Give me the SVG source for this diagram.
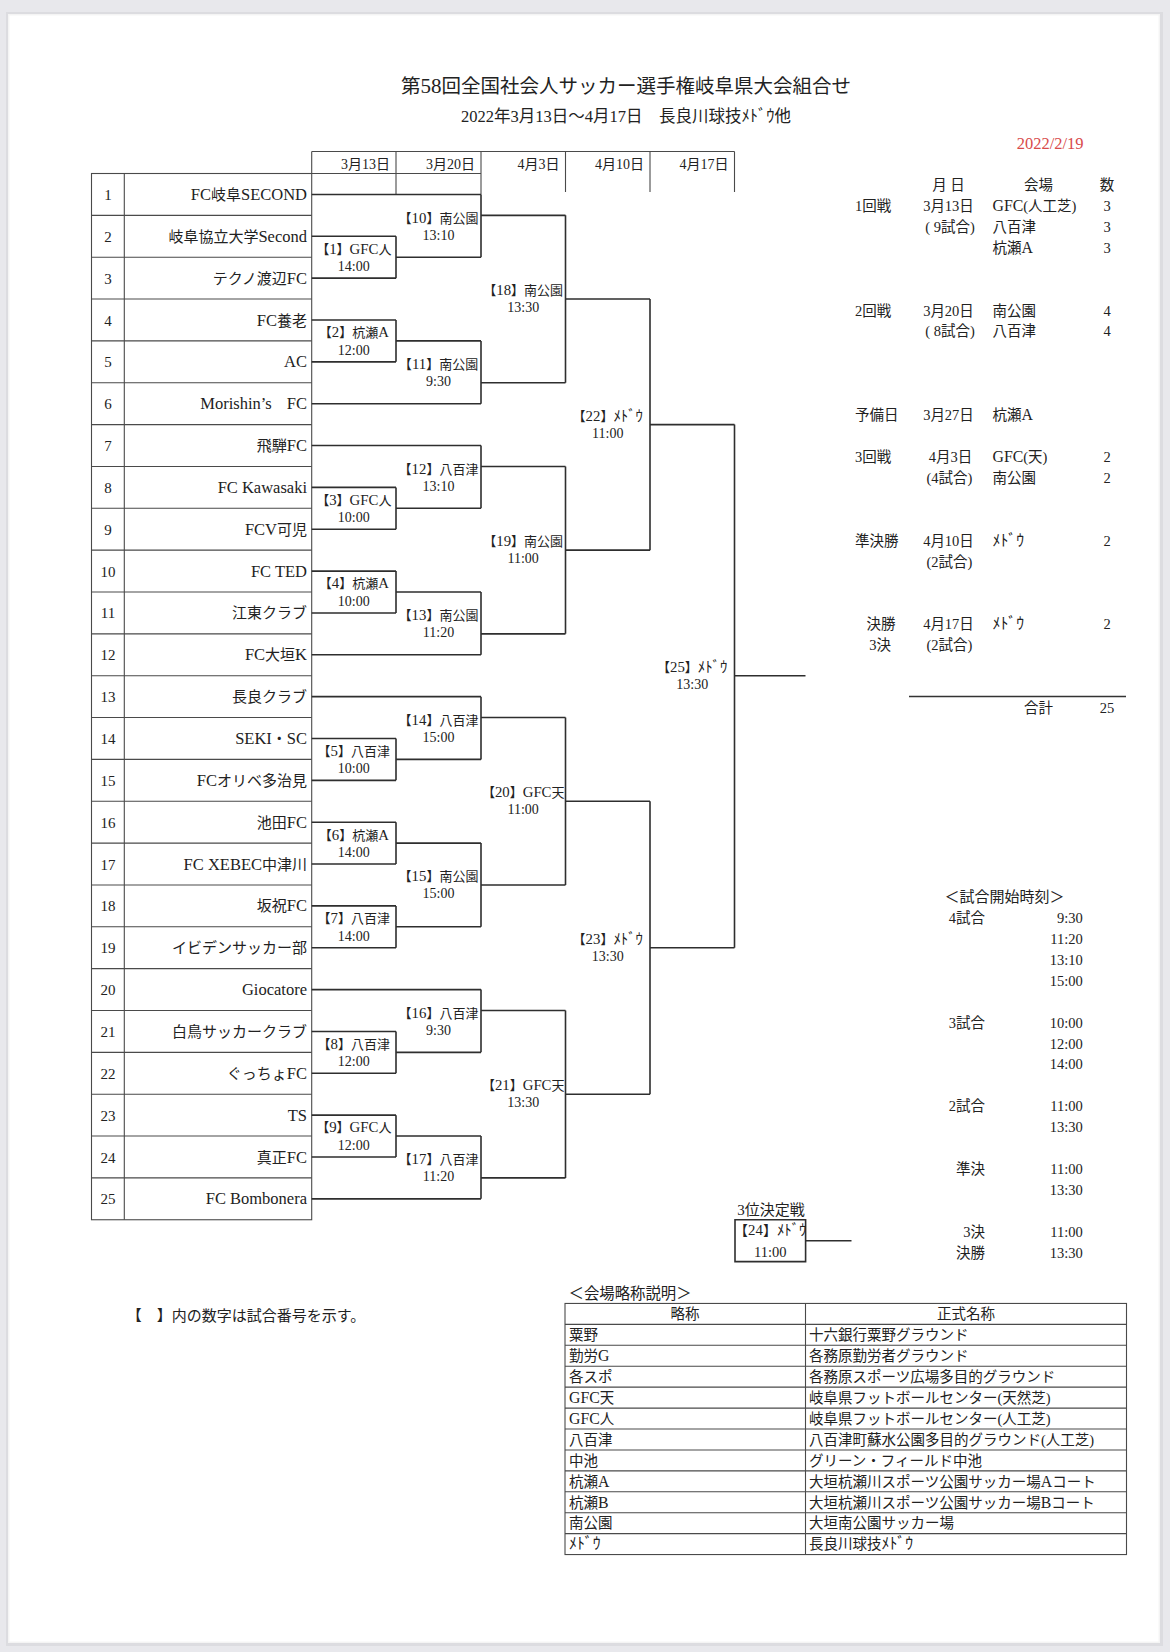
<svg xmlns="http://www.w3.org/2000/svg" width="1170" height="1652" viewBox="0 0 1170 1652">
<style>
text{font-family:"Liberation Serif","Noto Sans CJK JP",serif;fill:#222}
.team{font-size:15px;text-anchor:end}
.la{font-size:16.5px}
.lb{font-size:14.8px}
.li{font-size:15.8px}
.num{font-size:15px;text-anchor:middle}
.lbl{font-size:13px;text-anchor:middle}
.tm{font-size:14px;text-anchor:middle}
.hd{font-size:14px;text-anchor:end}
.inf{font-size:14.5px}
.mid{text-anchor:middle}
.end{text-anchor:end}
.ln{stroke:#2e2e2e;stroke-width:1.6;fill:none}
.tb{stroke:#4a4a4a;stroke-width:1.1;fill:none}
</style>
<rect x="0" y="0" width="1170" height="1652" fill="#e8e8ec"/>
<rect x="6" y="12" width="1157" height="1634" fill="#dcdce0"/>
<rect x="8" y="14" width="1152" height="1629" fill="#f4f4f4"/>
<rect x="9.5" y="15.5" width="1149" height="1626" fill="#ffffff"/>

<g id="title">
<text x="626" y="92.5" class="mid" style="font-size:19.5px">第<tspan style="font-size:21px">58</tspan>回全国社会人サッカー選手権岐阜県大会組合せ</text>
<text x="626" y="122" class="mid" style="font-size:16.5px">2022年3月13日～4月17日　長良川球技ﾒﾄﾞｳ他</text>
<text x="1083.6" y="149" class="end" style="font-size:16.5px;fill:#d84a4a">2022/2/19</text>
</g>

<g id="header">
<path class="tb" d="M311.7 151.5H734.5M91.5 173.5H481M396 151.5V194.4M481 151.5V194.4M565.5 151.5V192M650 151.5V192M734.5 151.5V192M311.7 151.5V173.5"/>
<text x="390" y="168.5" class="hd">3月13日</text>
<text x="475" y="168.5" class="hd">3月20日</text>
<text x="559.5" y="168.5" class="hd">4月3日</text>
<text x="644" y="168.5" class="hd">4月10日</text>
<text x="728.5" y="168.5" class="hd">4月17日</text>
</g>

<g id="team-table">
<rect class="tb" x="91.5" y="173.5" width="220.2" height="1046.25"/>
<path class="tb" d="M124.3 173.5V1219.75M91.5 215.35H311.7M91.5 257.2H311.7M91.5 299.05H311.7M91.5 340.9H311.7M91.5 382.75H311.7M91.5 424.6H311.7M91.5 466.45H311.7M91.5 508.3H311.7M91.5 550.15H311.7M91.5 592H311.7M91.5 633.85H311.7M91.5 675.7H311.7M91.5 717.55H311.7M91.5 759.4H311.7M91.5 801.25H311.7M91.5 843.1H311.7M91.5 884.95H311.7M91.5 926.8H311.7M91.5 968.65H311.7M91.5 1010.5H311.7M91.5 1052.35H311.7M91.5 1094.2H311.7M91.5 1136.05H311.7M91.5 1177.9H311.7"/>
</g>

<g id="team-1"><text x="108" y="199.9" class="num">1</text><text x="307" y="199.9" class="team"><tspan class="la">FC</tspan>岐阜<tspan class="la">SECOND</tspan></text></g>
<g id="team-2"><text x="108" y="241.8" class="num">2</text><text x="307" y="241.8" class="team">岐阜協立大学<tspan class="la">Second</tspan></text></g>
<g id="team-3"><text x="108" y="283.6" class="num">3</text><text x="307" y="283.6" class="team">テクノ渡辺<tspan class="la">FC</tspan></text></g>
<g id="team-4"><text x="108" y="325.5" class="num">4</text><text x="307" y="325.5" class="team"><tspan class="la">FC</tspan>養老</text></g>
<g id="team-5"><text x="108" y="367.3" class="num">5</text><text x="307" y="367.3" class="team"><tspan class="la">AC</tspan></text></g>
<g id="team-6"><text x="108" y="409.2" class="num">6</text><text x="307" y="409.2" class="team"><tspan class="la">Morishin’s</tspan>　<tspan class="la">FC</tspan></text></g>
<g id="team-7"><text x="108" y="451" class="num">7</text><text x="307" y="451" class="team">飛騨<tspan class="la">FC</tspan></text></g>
<g id="team-8"><text x="108" y="492.9" class="num">8</text><text x="307" y="492.9" class="team"><tspan class="la">FC Kawasaki</tspan></text></g>
<g id="team-9"><text x="108" y="534.7" class="num">9</text><text x="307" y="534.7" class="team"><tspan class="la">FCV</tspan>可児</text></g>
<g id="team-10"><text x="108" y="576.6" class="num">10</text><text x="307" y="576.6" class="team"><tspan class="la">FC TED</tspan></text></g>
<g id="team-11"><text x="108" y="618.4" class="num">11</text><text x="307" y="618.4" class="team">江東クラブ</text></g>
<g id="team-12"><text x="108" y="660.3" class="num">12</text><text x="307" y="660.3" class="team"><tspan class="la">FC</tspan>大垣<tspan class="la">K</tspan></text></g>
<g id="team-13"><text x="108" y="702.1" class="num">13</text><text x="307" y="702.1" class="team">長良クラブ</text></g>
<g id="team-14"><text x="108" y="744" class="num">14</text><text x="307" y="744" class="team"><tspan class="la">SEKI</tspan>・<tspan class="la">SC</tspan></text></g>
<g id="team-15"><text x="108" y="785.8" class="num">15</text><text x="307" y="785.8" class="team"><tspan class="la">FC</tspan>オリベ多治見</text></g>
<g id="team-16"><text x="108" y="827.7" class="num">16</text><text x="307" y="827.7" class="team">池田<tspan class="la">FC</tspan></text></g>
<g id="team-17"><text x="108" y="869.5" class="num">17</text><text x="307" y="869.5" class="team"><tspan class="la">FC XEBEC</tspan>中津川</text></g>
<g id="team-18"><text x="108" y="911.4" class="num">18</text><text x="307" y="911.4" class="team">坂祝<tspan class="la">FC</tspan></text></g>
<g id="team-19"><text x="108" y="953.2" class="num">19</text><text x="307" y="953.2" class="team">イビデンサッカー部</text></g>
<g id="team-20"><text x="108" y="995.1" class="num">20</text><text x="307" y="995.1" class="team"><tspan class="la">Giocatore</tspan></text></g>
<g id="team-21"><text x="108" y="1036.9" class="num">21</text><text x="307" y="1036.9" class="team">白鳥サッカークラブ</text></g>
<g id="team-22"><text x="108" y="1078.8" class="num">22</text><text x="307" y="1078.8" class="team">ぐっちょ<tspan class="la">FC</tspan></text></g>
<g id="team-23"><text x="108" y="1120.6" class="num">23</text><text x="307" y="1120.6" class="team"><tspan class="la">TS</tspan></text></g>
<g id="team-24"><text x="108" y="1162.5" class="num">24</text><text x="307" y="1162.5" class="team">真正<tspan class="la">FC</tspan></text></g>
<g id="team-25"><text x="108" y="1204.3" class="num">25</text><text x="307" y="1204.3" class="team"><tspan class="la">FC Bombonera</tspan></text></g>

<g id="connectors">
<path class="ln" d="M311.7 194.43H481M311.7 236.28H396M311.7 278.13H396M311.7 319.98H396M311.7 361.83H396M311.7 403.68H481M311.7 445.53H481M311.7 487.38H396M311.7 529.23H396M311.7 571.08H396M311.7 612.93H396M311.7 654.78H481M311.7 696.63H481M311.7 738.48H396M311.7 780.33H396M311.7 822.18H396M311.7 864.03H396M311.7 905.88H396M311.7 947.73H396M311.7 989.58H481M311.7 1031.43H396M311.7 1073.28H396M311.7 1115.13H396M311.7 1156.98H396M311.7 1198.83H481"/>
<path class="ln" d="M396 236.28V278.13M396 257.2H481M396 319.98V361.83M396 340.9H481M396 487.38V529.23M396 508.3H481M396 571.08V612.93M396 592H481M396 738.48V780.33M396 759.4H481M396 822.18V864.03M396 843.1H481M396 905.88V947.73M396 926.8H481M396 1031.43V1073.28M396 1052.35H481M396 1115.13V1156.98M396 1136.05H481"/>
<path class="ln" d="M481 194.43V257.2M481 215.35H565.5M481 340.9V403.68M481 382.75H565.5M481 445.53V508.3M481 466.45H565.5M481 592V654.78M481 633.85H565.5M481 696.63V759.4M481 717.55H565.5M481 843.1V926.8M481 884.95H565.5M481 989.58V1052.35M481 1010.5H565.5M481 1136.05V1198.83M481 1177.9H565.5"/>
<path class="ln" d="M565.5 215.35V382.75M565.5 299.05H650M565.5 466.45V633.85M565.5 550.15H650M565.5 717.55V884.95M565.5 801.25H650M565.5 1010.5V1177.9M565.5 1094.2H650"/>
<path class="ln" d="M650 299.05V550.15M650 424.6H734.5M650 801.25V1094.2M650 947.73H734.5M734.5 424.6V947.73M734.5 675.7H805.5"/>
<path class="ln" d="M735 1219.75H805.6V1261.6H735ZM805.6 1240.68H851.5"/>
</g>

<g id="m1"><text x="353.8" y="253.6" class="lbl">【<tspan class="lb">1</tspan>】<tspan class="lb">GFC</tspan>人</text><text x="353.8" y="270.9" class="tm">14:00</text></g>
<g id="m2"><text x="353.8" y="337.3" class="lbl">【<tspan class="lb">2</tspan>】杭瀬<tspan class="lb">A</tspan></text><text x="353.8" y="354.6" class="tm">12:00</text></g>
<g id="m3"><text x="353.8" y="504.7" class="lbl">【<tspan class="lb">3</tspan>】<tspan class="lb">GFC</tspan>人</text><text x="353.8" y="522" class="tm">10:00</text></g>
<g id="m4"><text x="353.8" y="588.4" class="lbl">【<tspan class="lb">4</tspan>】杭瀬<tspan class="lb">A</tspan></text><text x="353.8" y="605.7" class="tm">10:00</text></g>
<g id="m5"><text x="353.8" y="755.8" class="lbl">【<tspan class="lb">5</tspan>】八百津</text><text x="353.8" y="773.1" class="tm">10:00</text></g>
<g id="m6"><text x="353.8" y="839.5" class="lbl">【<tspan class="lb">6</tspan>】杭瀬<tspan class="lb">A</tspan></text><text x="353.8" y="856.8" class="tm">14:00</text></g>
<g id="m7"><text x="353.8" y="923.2" class="lbl">【<tspan class="lb">7</tspan>】八百津</text><text x="353.8" y="940.5" class="tm">14:00</text></g>
<g id="m8"><text x="353.8" y="1048.7" class="lbl">【<tspan class="lb">8</tspan>】八百津</text><text x="353.8" y="1066" class="tm">12:00</text></g>
<g id="m9"><text x="353.8" y="1132.4" class="lbl">【<tspan class="lb">9</tspan>】<tspan class="lb">GFC</tspan>人</text><text x="353.8" y="1149.7" class="tm">12:00</text></g>
<g id="m10"><text x="438.5" y="223.1" class="lbl">【<tspan class="lb">10</tspan>】南公園</text><text x="438.5" y="240.1" class="tm">13:10</text></g>
<g id="m11"><text x="438.5" y="368.6" class="lbl">【<tspan class="lb">11</tspan>】南公園</text><text x="438.5" y="385.6" class="tm">9:30</text></g>
<g id="m12"><text x="438.5" y="474.2" class="lbl">【<tspan class="lb">12</tspan>】八百津</text><text x="438.5" y="491.2" class="tm">13:10</text></g>
<g id="m13"><text x="438.5" y="619.7" class="lbl">【<tspan class="lb">13</tspan>】南公園</text><text x="438.5" y="636.7" class="tm">11:20</text></g>
<g id="m14"><text x="438.5" y="725.3" class="lbl">【<tspan class="lb">14</tspan>】八百津</text><text x="438.5" y="742.3" class="tm">15:00</text></g>
<g id="m15"><text x="438.5" y="880.8" class="lbl">【<tspan class="lb">15</tspan>】南公園</text><text x="438.5" y="897.8" class="tm">15:00</text></g>
<g id="m16"><text x="438.5" y="1018.2" class="lbl">【<tspan class="lb">16</tspan>】八百津</text><text x="438.5" y="1035.2" class="tm">9:30</text></g>
<g id="m17"><text x="438.5" y="1163.8" class="lbl">【<tspan class="lb">17</tspan>】八百津</text><text x="438.5" y="1180.8" class="tm">11:20</text></g>
<g id="m18"><text x="523.2" y="295" class="lbl">【<tspan class="lb">18</tspan>】南公園</text><text x="523.2" y="312.2" class="tm">13:30</text></g>
<g id="m19"><text x="523.2" y="546.1" class="lbl">【<tspan class="lb">19</tspan>】南公園</text><text x="523.2" y="563.3" class="tm">11:00</text></g>
<g id="m20"><text x="523.2" y="797.2" class="lbl">【<tspan class="lb">20</tspan>】<tspan class="lb">GFC</tspan>天</text><text x="523.2" y="814.4" class="tm">11:00</text></g>
<g id="m21"><text x="523.2" y="1090.2" class="lbl">【<tspan class="lb">21</tspan>】<tspan class="lb">GFC</tspan>天</text><text x="523.2" y="1107.4" class="tm">13:30</text></g>
<g id="m22"><text x="607.8" y="420.6" class="lbl">【<tspan class="lb">22</tspan>】<tspan class="lb">ﾒﾄﾞｳ</tspan></text><text x="607.8" y="437.8" class="tm">11:00</text></g>
<g id="m23"><text x="607.8" y="943.7" class="lbl">【<tspan class="lb">23</tspan>】<tspan class="lb">ﾒﾄﾞｳ</tspan></text><text x="607.8" y="960.9" class="tm">13:30</text></g>
<g id="m25"><text x="692.2" y="671.7" class="lbl">【<tspan class="lb">25</tspan>】<tspan class="lb">ﾒﾄﾞｳ</tspan></text><text x="692.2" y="688.9" class="tm">13:30</text></g>
<g id="m24">
<text x="771" y="1215.3" class="mid" style="font-size:15px">3位決定戦</text>
<text x="770.3" y="1235" class="mid" style="font-size:14px">【<tspan class="lb">24</tspan>】<tspan class="lb">ﾒﾄﾞｳ</tspan></text>
<text x="770.3" y="1256.6" class="mid" style="font-size:14.5px">11:00</text>
</g>

<g id="schedule">
<text x="948.5" y="190" class="mid inf">月 日</text>
<text x="1038.5" y="190" class="mid inf">会場</text>
<text x="1107" y="190" class="mid inf">数</text>
<text x="855" y="211" class="inf">1回戦</text>
<text x="948.5" y="211" class="mid inf">3月13日</text>
<text x="992.5" y="211" class="inf"><tspan class="li">GFC</tspan>(人工芝)</text>
<text x="1107" y="211" class="mid inf">3</text>
<text x="950" y="231.8" class="mid inf">(  9試合)</text>
<text x="992.5" y="231.8" class="inf">八百津</text>
<text x="1107" y="231.8" class="mid inf">3</text>
<text x="992.5" y="252.7" class="inf">杭瀬<tspan class="li">A</tspan></text>
<text x="1107" y="252.7" class="mid inf">3</text>
<text x="855" y="315.5" class="inf">2回戦</text>
<text x="948.5" y="315.5" class="mid inf">3月20日</text>
<text x="992.5" y="315.5" class="inf">南公園</text>
<text x="1107" y="315.5" class="mid inf">4</text>
<text x="950" y="336.4" class="mid inf">(  8試合)</text>
<text x="992.5" y="336.4" class="inf">八百津</text>
<text x="1107" y="336.4" class="mid inf">4</text>
<text x="855" y="420.1" class="inf">予備日</text>
<text x="948.5" y="420.1" class="mid inf">3月27日</text>
<text x="992.5" y="420.1" class="inf">杭瀬<tspan class="li">A</tspan></text>
<text x="855" y="462" class="inf">3回戦</text>
<text x="950.5" y="462" class="mid inf">4月3日</text>
<text x="992.5" y="462" class="inf"><tspan class="li">GFC</tspan>(天)</text>
<text x="1107" y="462" class="mid inf">2</text>
<text x="949.5" y="482.9" class="mid inf">(4試合)</text>
<text x="992.5" y="482.9" class="inf">南公園</text>
<text x="1107" y="482.9" class="mid inf">2</text>
<text x="855" y="545.7" class="inf">準決勝</text>
<text x="948.5" y="545.7" class="mid inf">4月10日</text>
<text x="992.5" y="545.7" class="inf"><tspan class="li">ﾒﾄﾞｳ</tspan></text>
<text x="1107" y="545.7" class="mid inf">2</text>
<text x="949.5" y="566.6" class="mid inf">(2試合)</text>
<text x="881" y="629.4" class="mid inf">決勝</text>
<text x="948.5" y="629.4" class="mid inf">4月17日</text>
<text x="992.5" y="629.4" class="inf"><tspan class="li">ﾒﾄﾞｳ</tspan></text>
<text x="1107" y="629.4" class="mid inf">2</text>
<text x="880" y="650.3" class="mid inf">3決</text>
<text x="949.5" y="650.3" class="mid inf">(2試合)</text>
<path d="M909 696.6H1126" stroke="#333" stroke-width="1.5"/>
<text x="1038.5" y="713.1" class="mid inf">合計</text>
<text x="1107" y="713.1" class="mid inf">25</text>
</g>

<g id="start-times">
<text x="1004.5" y="902" class="mid" style="font-size:15px">＜試合開始時刻＞</text>
<text x="985" y="923" class="end inf">4試合</text>
<text x="1082.7" y="923" class="end inf">9:30</text>
<text x="1082.7" y="944" class="end inf">11:20</text>
<text x="1082.7" y="964.8" class="end inf">13:10</text>
<text x="1082.7" y="985.8" class="end inf">15:00</text>
<text x="985" y="1027.6" class="end inf">3試合</text>
<text x="1082.7" y="1027.6" class="end inf">10:00</text>
<text x="1082.7" y="1048.5" class="end inf">12:00</text>
<text x="1082.7" y="1069.4" class="end inf">14:00</text>
<text x="985" y="1111.3" class="end inf">2試合</text>
<text x="1082.7" y="1111.3" class="end inf">11:00</text>
<text x="1082.7" y="1132.2" class="end inf">13:30</text>
<text x="985" y="1174.1" class="end inf">準決</text>
<text x="1082.7" y="1174.1" class="end inf">11:00</text>
<text x="1082.7" y="1195" class="end inf">13:30</text>
<text x="985" y="1236.9" class="end inf">3決</text>
<text x="1082.7" y="1236.9" class="end inf">11:00</text>
<text x="985" y="1257.8" class="end inf">決勝</text>
<text x="1082.7" y="1257.8" class="end inf">13:30</text>
</g>

<g id="note">
<text x="126.7" y="1321.3" style="font-size:15px">【　】内の数字は試合番号を示す。</text>
</g>

<g id="venue-table">
<text x="568.5" y="1298.5" style="font-size:15.4px">＜会場略称説明＞</text>
<rect class="tb" x="565" y="1303.45" width="561.5" height="251.1"/>
<path class="tb" d="M805.5 1303.45V1554.55M565 1324.38H1126.5M565 1345.3H1126.5M565 1366.23H1126.5M565 1387.15H1126.5M565 1408.08H1126.5M565 1429H1126.5M565 1449.93H1126.5M565 1470.85H1126.5M565 1491.78H1126.5M565 1512.7H1126.5M565 1533.63H1126.5"/>
<text x="685" y="1319.4" class="mid inf">略称</text>
<text x="966" y="1319.4" class="mid inf">正式名称</text>
<text x="569" y="1340.1" class="inf">粟野</text><text x="809" y="1340.1" class="inf">十六銀行粟野グラウンド</text>
<text x="569" y="1361" class="inf">勤労<tspan class="li">G</tspan></text><text x="809" y="1361" class="inf">各務原勤労者グラウンド</text>
<text x="569" y="1381.9" class="inf">各スポ</text><text x="809" y="1381.9" class="inf">各務原スポーツ広場多目的グラウンド</text>
<text x="569" y="1402.9" class="inf"><tspan class="li">GFC</tspan>天</text><text x="809" y="1402.9" class="inf">岐阜県フットボールセンター(天然芝)</text>
<text x="569" y="1423.8" class="inf"><tspan class="li">GFC</tspan>人</text><text x="809" y="1423.8" class="inf">岐阜県フットボールセンター(人工芝)</text>
<text x="569" y="1444.7" class="inf">八百津</text><text x="809" y="1444.7" class="inf">八百津町蘇水公園多目的グラウンド(人工芝)</text>
<text x="569" y="1465.6" class="inf">中池</text><text x="809" y="1465.6" class="inf">グリーン・フィールド中池</text>
<text x="569" y="1486.6" class="inf">杭瀬<tspan class="li">A</tspan></text><text x="809" y="1486.6" class="inf">大垣杭瀬川スポーツ公園サッカー場<tspan class="li">A</tspan>コート</text>
<text x="569" y="1507.5" class="inf">杭瀬<tspan class="li">B</tspan></text><text x="809" y="1507.5" class="inf">大垣杭瀬川スポーツ公園サッカー場<tspan class="li">B</tspan>コート</text>
<text x="569" y="1528.4" class="inf">南公園</text><text x="809" y="1528.4" class="inf">大垣南公園サッカー場</text>
<text x="569" y="1549.3" class="inf"><tspan class="li">ﾒﾄﾞｳ</tspan></text><text x="809" y="1549.3" class="inf">長良川球技<tspan class="li">ﾒﾄﾞｳ</tspan></text>
</g>
</svg>
